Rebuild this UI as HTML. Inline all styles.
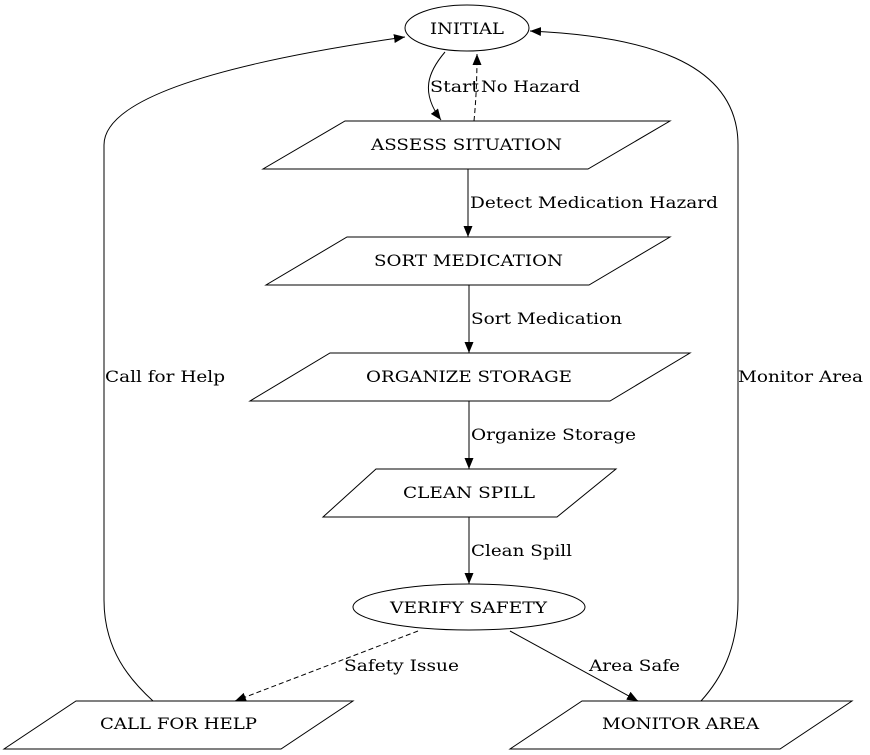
<!DOCTYPE html>
<html><head><meta charset="utf-8"><style>
html,body{margin:0;padding:0;background:#fff;}
svg{display:block;}
text{font-family:"DejaVu Serif","Liberation Serif",serif;font-size:16px;fill:#000;}
</style></head><body>
<svg width="870" height="755" viewBox="0 0 870 755" xmlns="http://www.w3.org/2000/svg">
<defs>
<marker id="a" markerWidth="11" markerHeight="9" refX="11" refY="4.5" orient="auto" markerUnits="userSpaceOnUse">
<path d="M0,0 L11,4.5 L0,9 Z" fill="#000"/></marker>
</defs>
<g fill="none" stroke="#000" stroke-width="1">
<ellipse cx="467" cy="28" rx="62" ry="23"/>
<polygon points="345,121 670,121 588,169 263,169"/>
<polygon points="347,237 670,237 589,285 266,285"/>
<polygon points="330,353 690,353 610,401 250,401"/>
<polygon points="376,469 616,469 557,517 323,517"/>
<ellipse cx="469" cy="607" rx="116" ry="23"/>
<polygon points="76,701 353,701 281,749 4,749"/>
<polygon points="582,701 852,701 780,749 510,749"/>

<path d="M445,52 C428,72 420,92 441,120" marker-end="url(#a)"/>
<path d="M474,121 C476,100 477,80 477,54" stroke-dasharray="5,3" marker-end="url(#a)"/>
<path d="M468,169 L468,237" marker-end="url(#a)"/>
<path d="M469,285 L469,353" marker-end="url(#a)"/>
<path d="M469,401 L469,469" marker-end="url(#a)"/>
<path d="M469,517 L469,584" marker-end="url(#a)"/>
<path d="M418,631 L235,701" stroke-dasharray="5,3" marker-end="url(#a)"/>
<path d="M510,631 L638,701" marker-end="url(#a)"/>
<path d="M153,701 C130,680 104,650 104,600 L104,145 C104,85 300,52 405,37" marker-end="url(#a)"/>
<path d="M701,701 C720,680 738,650 738,600 L738,145 C738,60 640,36 530,31" marker-end="url(#a)"/>
</g>
<g>
<text x="430" y="34" textLength="74" lengthAdjust="spacingAndGlyphs">INITIAL</text>
<text x="371" y="150" textLength="191" lengthAdjust="spacingAndGlyphs">ASSESS SITUATION</text>
<text x="374" y="266" textLength="189" lengthAdjust="spacingAndGlyphs">SORT MEDICATION</text>
<text x="366" y="382" textLength="206" lengthAdjust="spacingAndGlyphs">ORGANIZE STORAGE</text>
<text x="403" y="498" textLength="132" lengthAdjust="spacingAndGlyphs">CLEAN SPILL</text>
<text x="390" y="613" textLength="157" lengthAdjust="spacingAndGlyphs">VERIFY SAFETY</text>
<text x="100" y="729" textLength="157" lengthAdjust="spacingAndGlyphs">CALL FOR HELP</text>
<text x="602" y="729" textLength="157" lengthAdjust="spacingAndGlyphs">MONITOR AREA</text>
<text x="430" y="92" textLength="49" lengthAdjust="spacingAndGlyphs">Start</text>
<text x="481" y="92" textLength="99" lengthAdjust="spacingAndGlyphs">No Hazard</text>
<text x="470" y="208" textLength="248" lengthAdjust="spacingAndGlyphs">Detect Medication Hazard</text>
<text x="471" y="324" textLength="151" lengthAdjust="spacingAndGlyphs">Sort Medication</text>
<text x="471" y="440" textLength="165" lengthAdjust="spacingAndGlyphs">Organize Storage</text>
<text x="471" y="556" textLength="101" lengthAdjust="spacingAndGlyphs">Clean Spill</text>
<text x="344" y="671" textLength="115" lengthAdjust="spacingAndGlyphs">Safety Issue</text>
<text x="589" y="671" textLength="91" lengthAdjust="spacingAndGlyphs">Area Safe</text>
<text x="105" y="382" textLength="120" lengthAdjust="spacingAndGlyphs">Call for Help</text>
<text x="738" y="382" textLength="125" lengthAdjust="spacingAndGlyphs">Monitor Area</text>
</g>
</svg>
</body></html>
